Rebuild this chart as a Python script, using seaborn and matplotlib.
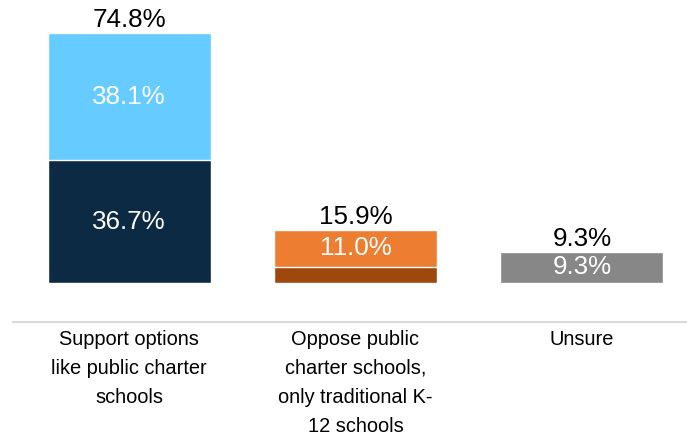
import pandas as pd
import seaborn as sns
import matplotlib.pyplot as plt

sns.set_style("white")
plt.rcParams['font.family'] = ['Liberation Sans', 'DejaVu Sans']

# chart data
categories = ["Support options\nlike public charter\nschools",
              "Oppose public\ncharter schools,\nonly traditional K-\n12 schools",
              "Unsure"]
bottom_vals = [36.7, 4.9, 9.3]
top_vals = [38.1, 11.0, 0.0]
totals = [74.8, 15.9, 9.3]
inner_labels = ["36.7%", None, "9.3%"]
top_labels = ["38.1%", "11.0%", None]

top_colors = ["#66CCFF", "#ED7D31", "#878787"]
bottom_colors = ["#0D2A45", "#9E480E", "#878787"]

df = pd.DataFrame({"cat": categories, "bottom": bottom_vals,
                   "top": top_vals, "total": totals})

fig = plt.figure(figsize=(6.87, 4.41), dpi=100)
ax = fig.add_axes([13 / 687, (441 - 322) / 441, 682 / 687, 322 / 441])

# full stack first, then the lower segment over it
sns.barplot(data=df, x="cat", y="total", hue="cat", palette=top_colors,
            width=0.72, saturation=1, legend=False, ax=ax)
sns.barplot(data=df, x="cat", y="bottom", hue="cat", palette=bottom_colors,
            width=0.72, saturation=1, legend=False, ax=ax)

fs = 18.7
for i in range(len(categories)):
    ax.annotate(f"{totals[i]}%", (i, totals[i]), xytext=(0, 0.5),
                textcoords="offset points", ha="center", va="bottom",
                fontsize=fs, color="black")
    if inner_labels[i]:
        ax.text(i, bottom_vals[i] / 2, inner_labels[i], ha="center",
                va="center", fontsize=fs, color="white")
    if top_labels[i]:
        ax.text(i, bottom_vals[i] + top_vals[i] / 2, top_labels[i],
                ha="center", va="center", fontsize=fs, color="white")

ax.set_xlim(-0.513, 2.5)
ax.set_ylim(-11.66, 84.6)
ax.set_xlabel("")
ax.set_ylabel("")
ax.set_yticks([])
ax.tick_params(axis="x", length=0, pad=5.5)
for lab in ax.get_xticklabels():
    lab.set_fontsize(14.4)
    lab.set_linespacing(1.68)
    lab.set_color("black")
for s in ["top", "left", "right"]:
    ax.spines[s].set_visible(False)
ax.spines["bottom"].set_color("#d9d9d9")
ax.spines["bottom"].set_linewidth(1.5)

plt.savefig("out.png", dpi=100)
